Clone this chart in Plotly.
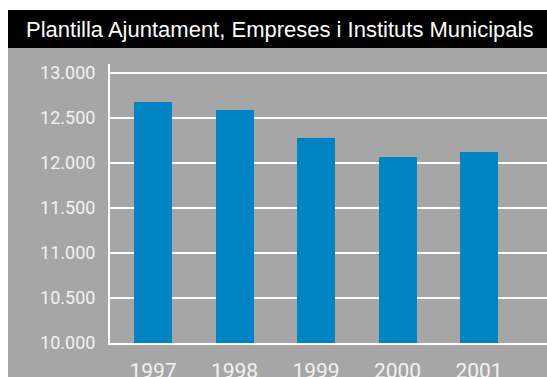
import plotly.graph_objects as go

# Staff headcount by year
years = ["1997", "1998", "1999", "2000", "2001"]
staff = [12683, 12594, 12283, 12072, 12117]
y_ticks = [10000, 10500, 11000, 11500, 12000, 12500, 13000]

title_text = "Plantilla Ajuntament, Empreses i Instituts Municipals"

W, H = 547, 377
L, R, T, B = 110, 0, 64, 34
pw, ph = W - L - R, H - T - B


def px_x(p):
    return (p - L) / pw


def px_y(p):
    return (H - B - p) / ph


fig = go.Figure(
    go.Bar(
        x=list(range(len(years))),
        y=staff,
        width=0.466,
        marker=dict(color="#0084C4", line=dict(width=0)),
        hoverinfo="x+y",
    )
)

shapes = [
    # white strip along the top
    dict(type="rect", xref="paper", yref="paper", x0=px_x(-20), x1=px_x(W + 20),
         y0=px_y(10), y1=px_y(-20), fillcolor="white", line=dict(width=0)),
    # white strip along the left
    dict(type="rect", xref="paper", yref="paper", x0=px_x(-20), x1=px_x(8),
         y0=px_y(H + 20), y1=px_y(-20), fillcolor="white", line=dict(width=0)),
    # black title band
    dict(type="rect", xref="paper", yref="paper", x0=px_x(8), x1=px_x(W + 20),
         y0=px_y(48), y1=px_y(10), fillcolor="black", line=dict(width=0)),
]

fig.update_layout(
    width=W,
    height=H,
    margin=dict(l=L, r=R, t=T, b=B, pad=0, autoexpand=False),
    paper_bgcolor="#A6A6A6",
    plot_bgcolor="#A6A6A6",
    separators=",.",
    showlegend=False,
    bargap=0,
    shapes=shapes,
    title=dict(
        text=title_text,
        xref="container",
        yref="container",
        x=26 / W,
        xanchor="left",
        y=1 - 29.5 / H,
        yanchor="middle",
        automargin=False,
        font=dict(family="Liberation Sans, Arial, sans-serif", size=22, color="white"),
    ),
    xaxis=dict(
        range=[-0.528, 4.834],
        tickmode="array",
        tickvals=list(range(len(years))),
        ticktext=years,
        showgrid=False,
        zeroline=False,
        showline=True,
        linecolor="white",
        linewidth=2,
        ticks="",
        automargin=False,
        ticklabelstandoff=8,
        tickfont=dict(family="Roboto, Liberation Sans, sans-serif", size=21, color="#F2F2F2"),
        fixedrange=True,
    ),
    yaxis=dict(
        range=[10000, 13100],
        tickmode="array",
        tickvals=y_ticks,
        tickformat=",d",
        showgrid=True,
        gridcolor="white",
        gridwidth=2,
        zeroline=False,
        showline=True,
        linecolor="white",
        linewidth=2,
        ticks="",
        automargin=False,
        ticklabelstandoff=9,
        tickfont=dict(family="Roboto, Liberation Sans, sans-serif", size=18, color="#F2F2F2"),
        fixedrange=True,
    ),
)

fig.write_html("out.html")
